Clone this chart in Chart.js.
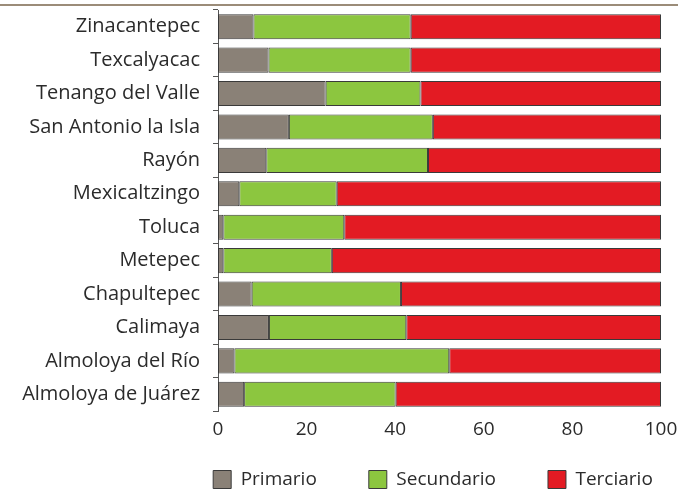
<!DOCTYPE html>
<html lang="es">
<head>
<meta charset="UTF-8">
<title>Población ocupada por sector</title>
<script src="https://cdn.jsdelivr.net/npm/chart.js"></script>
<style>
    html, body { margin: 0; padding: 0; background: #fff; }
    #wrap { position: relative; width: 678px; height: 491px; }
    #rule { position: absolute; left: 0; top: 4px; width: 678px; height: 2px; background: #9b8c79; }
</style>
</head>
<body>
<div id="wrap">
    <div id="rule"></div>
    <canvas id="sectores" width="678" height="491"></canvas>
</div>
<script>
    const municipios = ["Zinacantepec", "Texcalyacac", "Tenango del Valle", "San Antonio la Isla", "Rayón",
        "Mexicaltzingo", "Toluca", "Metepec", "Chapultepec", "Calimaya", "Almoloya del Río", "Almoloya de Juárez"];
    const primario   = [8.0, 11.4, 24.3, 16.0, 10.9, 4.8, 1.2, 1.2, 7.6, 11.5, 3.7, 5.9];
    const secundario = [35.5, 32.1, 21.4, 32.5, 36.5, 22.0, 27.3, 24.5, 33.7, 31.0, 48.5, 34.2];
    const terciario  = [56.5, 56.5, 54.3, 51.5, 52.6, 73.2, 71.5, 74.3, 58.7, 57.5, 47.8, 59.9];
    const xTicks = [0, 20, 40, 60, 80, 100];

    const fuente = "'Open Sans', 'DejaVu Sans', sans-serif";
    const texto = '#2b2b2b';

    const serie = (label, data, color) => ({
        label, data,
        backgroundColor: color,
        borderColor: '#3a3a3a',
        borderWidth: 1,
        borderSkipped: false,
        barPercentage: 0.75,
        categoryPercentage: 1.0
    });

    // the legend sits under the bars rather than the whole canvas, and hugs the bottom edge
    const ajusteLeyenda = {
        id: 'ajusteLeyenda',
        afterLayout(chart) {
            const lg = chart.legend;
            lg.left += 94;
            lg.right += 94;
            lg.top -= 24;
        }
    };

    new Chart(document.getElementById('sectores'), {
        type: 'bar',
        data: {
            labels: municipios,
            datasets: [
                serie('Primario', primario, '#8a8177'),
                serie('Secundario', secundario, '#8cc63f'),
                serie('Terciario', terciario, '#e31b23')
            ]
        },
        options: {
            indexAxis: 'y',
            responsive: false,
            animation: false,
            layout: { padding: { top: 10, left: 0, right: 0, bottom: 0 } },
            scales: {
                x: {
                    stacked: true,
                    min: 0, max: 100,
                    afterBuildTicks: axis => { axis.ticks = xTicks.map(v => ({ value: v })); },
                    afterFit: axis => { axis.height = 31; axis.paddingRight = 17; },
                    grid: { display: false, drawTicks: false },
                    border: { display: false },
                    ticks: { color: texto, font: { family: fuente, size: 19 }, padding: 7 }
                },
                y: {
                    stacked: true,
                    grid: { drawOnChartArea: false, offset: true, tickLength: 5, color: '#555' },
                    border: { display: true, color: '#555', width: 1 },
                    ticks: { color: texto, font: { family: fuente, size: 20 }, padding: 13, autoSkip: false },
                    afterFit: axis => { axis.width = 218; axis.paddingTop = 0; axis.paddingBottom = 0; }
                }
            },
            plugins: {
                tooltip: { enabled: false },
                legend: {
                    position: 'bottom',
                    maxHeight: 49,
                    labels: {
                        color: texto,
                        font: { family: fuente, size: 19 },
                        boxWidth: 18,
                        boxHeight: 18,
                        padding: 52
                    }
                }
            }
        },
        plugins: [ajusteLeyenda]
    });
</script>
</body>
</html>
